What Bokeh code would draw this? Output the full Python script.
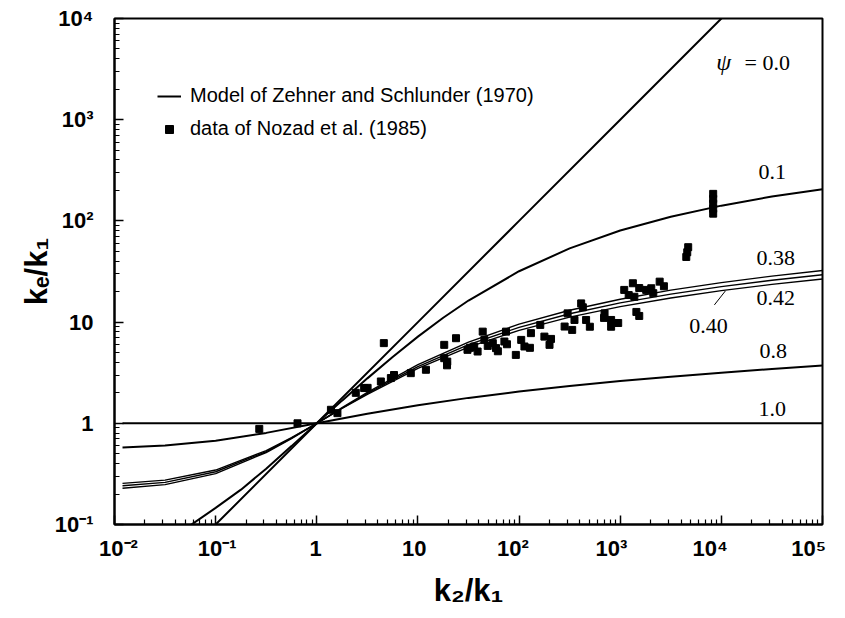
from bokeh.plotting import figure
from bokeh.models import (Range1d, FixedTicker, Label, Legend, LegendItem, ColumnDataSource,
                          LogAxis, LogScale)
from bokeh.embed import file_html
from bokeh.resources import INLINE

# ---------------- data ----------------
# model curves: k2/k1 sample points and ke/k1 for each porosity psi
x_psi_00 = [0.05, 0.1, 1.0, 10.0, 100.0, 1000.0, 10000.0, 20000.0]
ke_psi_00 = [0.05, 0.1, 1.0, 10.0, 100.0, 1000.0, 10000.0, 20000.0]

x_psi_01 = [0.0316, 0.0562, 0.1, 0.178, 0.316, 0.562, 1.0, 1.778, 3.162, 5.623,
            10.0, 17.78, 31.62, 100.0, 316.2, 1000.0, 3162.0, 10000.0, 31623.0, 100000.0]
ke_psi_01 = [0.075, 0.098, 0.146, 0.221, 0.356, 0.595, 1.0, 1.675, 2.780, 4.529,
             7.185, 11.04, 16.33, 31.82, 53.51, 80.5, 110.0, 141.5, 174.0, 206.0]

x_psi_04 = [0.012, 0.0316, 0.1, 0.316, 0.562, 1.0, 1.778, 3.162, 10.0, 31.62,
            100.0, 316.2, 1000.0, 3162.0, 10000.0, 31623.0, 100000.0]
ke_psi_038 = [0.2283, 0.2477, 0.3184, 0.5144, 0.7068, 1.0, 1.428, 2.022, 3.799, 6.349,
              9.535, 13.09, 16.84, 20.68, 24.56, 28.46, 32.36]
ke_psi_040 = [0.2417, 0.2609, 0.3319, 0.5260, 0.7145, 1.0, 1.409, 1.977, 3.639, 5.998,
              8.872, 12.08, 15.49, 18.92, 22.39, 25.88, 29.38]
ke_psi_042 = [0.2548, 0.2743, 0.3453, 0.5380, 0.7231, 1.0, 1.401, 1.933, 3.493, 5.662,
              8.288, 11.19, 14.22, 17.32, 20.44, 23.57, 26.70]

x_psi_08 = [0.012, 0.0316, 0.1, 0.316, 1.0, 3.162, 10.0, 31.62, 100.0, 316.2,
            1000.0, 3162.0, 10000.0, 31623.0, 100000.0]
ke_psi_08 = [0.576, 0.603, 0.674, 0.804, 1.0, 1.242, 1.508, 1.783, 2.059, 2.333,
             2.611, 2.887, 3.162, 3.439, 3.715]

x_psi_10 = [0.012, 100000.0]
ke_psi_10 = [1.0, 1.0]

# measured data of Nozad et al. (1985)
data_k2k1 = [0.27, 0.645, 1.38, 1.60, 2.43, 2.94, 3.18, 4.3, 4.6, 5.4, 5.8, 8.5, 12.0,
             18.2, 19.5, 18.2, 23.8, 19.4, 30.9, 32.7, 36.0, 38.9, 43.7, 45.4, 49.0, 55.0,
             59.2, 61.7, 71.6, 74.3, 75.9, 92.9, 105.0, 113.0, 128.0, 131.0, 162.0, 178.0,
             200.0, 207.0, 282.0, 302.0, 335.0, 353.0, 411.0, 427.0, 460.0, 501.0, 692.0,
             700.0, 813.0, 813.0, 955.0, 1096.0, 1213.0, 1334.0, 1380.0, 1445.0, 1542.0,
             1542.0, 1807.0, 2028.0, 2123.0, 2455.0, 2704.0, 4500.0, 4600.0, 4700.0,
             8300.0, 8300.0, 8300.0, 8300.0, 8300.0]
data_ke = [0.88, 1.0, 1.36, 1.26, 2.0, 2.23, 2.24, 2.59, 6.2, 2.8, 3.0, 3.13, 3.38,
           4.4, 4.07, 5.96, 6.93, 3.74, 5.32, 5.57, 5.74, 5.12, 8.05, 6.67, 5.82, 6.19,
           5.53, 5.15, 6.43, 8.05, 6.04, 4.74, 6.67, 5.74, 5.57, 7.78, 9.38, 7.19,
           5.96, 6.82, 9.04, 12.2, 8.37, 10.5, 15.3, 14.0, 10.5, 9.0, 11.0,
           12.2, 9.0, 10.5, 9.8, 20.8, 18.5, 24.2, 17.8, 12.6, 21.7,
           11.5, 20.8, 21.6, 19.3, 25.1, 22.6, 44.0, 49.0, 55.0,
           118.0, 132.0, 148.0, 165.0, 185.0]

x_tick_values = [0.01, 0.1, 1, 10, 100, 1000, 10000, 100000]
x_tick_labels = ["10\u207b\u00b2", "10\u207b\u00b9", "1", "10", "10\u00b2", "10\u00b3",
                 "10\u2074", "10\u2075"]
y_tick_values = [0.1, 1, 10, 100, 1000, 10000]
y_tick_labels = ["10\u207b\u00b9", "1", "10", "10\u00b2", "10\u00b3", "10\u2074"]

x_title = "k\u2082/k\u2081"
y_title = "k\u2091/k\u2081"
legend_labels = ["Model of Zehner and Schlunder (1970)", "data of Nozad et al. (1985)"]

# ---------------- figure ----------------
X0, X1, Y0, Y1 = 0.01, 100000, 0.1, 10000
SANS = "Liberation Sans"
SERIF = "Liberation Serif"
TICK_PX = 22
TITLE_PX = 31

p = figure(width=837, height=610, x_axis_type="log", y_axis_type="log",
           x_range=Range1d(X0, X1), y_range=Range1d(Y0, Y1),
           output_backend="svg", toolbar_location=None,
           min_border_left=114, min_border_right=15, min_border_top=18, min_border_bottom=85)
p.background_fill_color = "white"
p.border_fill_color = "white"
p.outline_line_color = "black"
p.outline_line_width = 2
p.xgrid.visible = False
p.ygrid.visible = False


def minor(vals):
    out = []
    for v in vals[:-1]:
        for k in range(2, 10):
            out.append(v * k)
    return out


def style_ticks(ax):
    ax.axis_line_width = 2
    ax.major_tick_in = 9
    ax.major_tick_out = 0
    ax.minor_tick_in = 5
    ax.minor_tick_out = 0
    ax.major_tick_line_width = 1.5
    ax.minor_tick_line_width = 1.2


def style_labels(ax, px):
    ax.major_label_text_font = SANS
    ax.major_label_text_font_style = "bold"
    ax.major_label_text_font_size = f"{px}px"
    ax.major_label_text_color = "black"
    ax.axis_label_text_font = SANS
    ax.axis_label_text_font_style = "bold"
    ax.axis_label_text_font_size = f"{TITLE_PX}px"
    ax.axis_label_text_color = "black"


# x axis: ticks on the main axis, labels on a companion axis placed as in the reference
xa = p.xaxis[0]
xa.ticker = FixedTicker(ticks=x_tick_values, minor_ticks=minor(x_tick_values))
style_ticks(xa)
xa.major_label_overrides = {v: "" for v in x_tick_values}
xa.major_label_standoff = 0
xa.major_label_text_font_size = "1px"

p.extra_x_ranges = {"xlab": Range1d(10 ** -2.0406, 10 ** 5.1399)}
p.extra_x_scales = {"xlab": LogScale()}
xl = LogAxis(x_range_name="xlab", ticker=FixedTicker(ticks=x_tick_values, minor_ticks=[]))
xl.axis_line_alpha = 0
xl.major_tick_in = 0
xl.major_tick_out = 0
xl.minor_tick_in = 0
xl.minor_tick_out = 0
xl.major_label_overrides = dict(zip(x_tick_values, x_tick_labels))
xl.major_label_standoff = 11
style_labels(xl, TICK_PX)
xl.axis_label = x_title
xl.axis_label_standoff = 9
p.add_layout(xl, "below")

ya = p.yaxis[0]
ya.ticker = FixedTicker(ticks=y_tick_values, minor_ticks=minor(y_tick_values))
style_ticks(ya)
ya.major_label_overrides = dict(zip(y_tick_values, y_tick_labels))
ya.major_label_standoff = 21
style_labels(ya, TICK_PX)
ya.axis_label = y_title
ya.axis_label_standoff = -2

# ---------------- curves ----------------
lw = 2
r_model = p.line(x_psi_00, ke_psi_00, line_color="black", line_width=lw)
p.line(x_psi_01, ke_psi_01, line_color="black", line_width=lw)
p.line(x_psi_04, ke_psi_038, line_color="black", line_width=1.4)
p.line(x_psi_04, ke_psi_040, line_color="black", line_width=1.4)
p.line(x_psi_04, ke_psi_042, line_color="black", line_width=1.4)
p.line(x_psi_08, ke_psi_08, line_color="black", line_width=lw)
p.line(x_psi_10, ke_psi_10, line_color="black", line_width=lw)

src = ColumnDataSource(dict(x=data_k2k1, y=data_ke))
r_data = p.scatter("x", "y", source=src, marker="square", size=7,
                   fill_color="black", line_color="black")

legend = Legend(items=[LegendItem(label=legend_labels[0], renderers=[r_model]),
                       LegendItem(label=legend_labels[1], renderers=[r_data])],
                location=(43, 384), orientation="vertical",
                glyph_width=24, glyph_height=20, label_standoff=9, spacing=10,
                padding=0, margin=0, border_line_alpha=0, background_fill_alpha=0,
                label_text_font=SANS, label_text_font_size="20px",
                label_text_color="black", label_height=20)
p.add_layout(legend)


# ---------------- curve annotations ----------------
def lab(x, y, t, style="normal", px=22):
    p.add_layout(Label(x=x, y=y, text=t, text_font=SERIF, text_font_size=f"{px}px",
                       text_font_style=style, text_color="black",
                       text_align="left", text_baseline="middle"))


lab(10 ** 3.95, 10 ** 3.566, "\u03c8", "italic", 24)
lab(10 ** 4.23, 10 ** 3.566, "= 0.0")
lab(10 ** 4.366, 10 ** 2.481, "0.1")
lab(10 ** 4.347, 10 ** 1.633, "0.38")
lab(10 ** 4.347, 10 ** 1.239, "0.42")
lab(10 ** 3.683, 10 ** 0.962, "0.40")
lab(10 ** 4.376, 10 ** 0.716, "0.8")
lab(10 ** 4.366, 10 ** 0.144, "1.0")
p.segment(x0=[10 ** 3.931], y0=[10 ** 1.17], x1=[10 ** 4.04], y1=[10 ** 1.308],
          line_color="black", line_width=1)

open("out.html", "w").write(file_html(p, INLINE))
